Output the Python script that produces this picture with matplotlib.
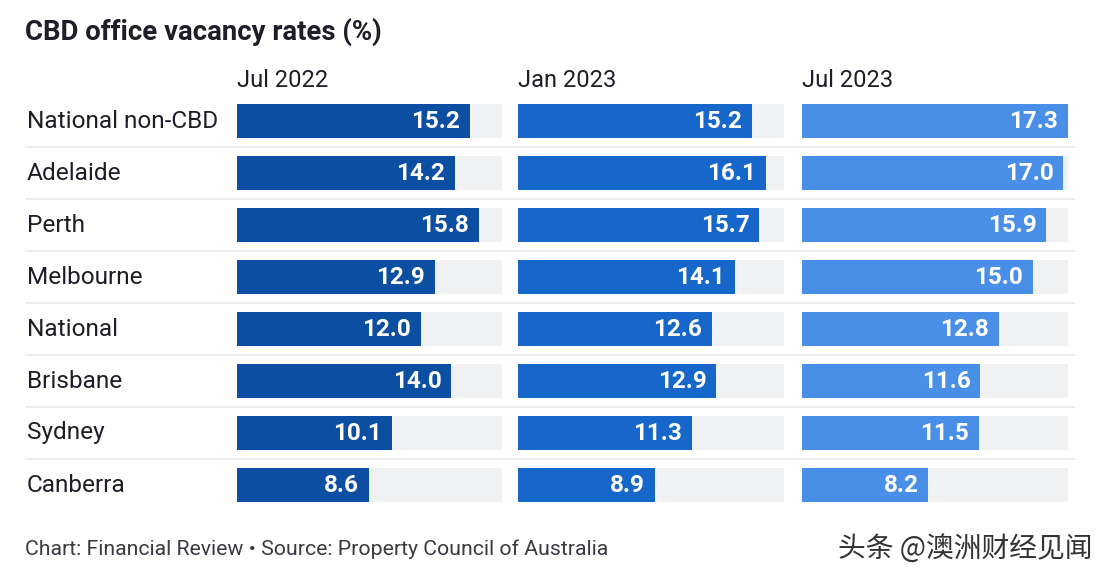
import matplotlib
matplotlib.use("Agg")
import matplotlib.pyplot as plt

# dados
cities = ["National non-CBD", "Adelaide", "Perth", "Melbourne", "National",
          "Brisbane", "Sydney", "Canberra"]
periods = ["Jul 2022", "Jan 2023", "Jul 2023"]
jul_2022 = [15.2, 14.2, 15.8, 12.9, 12.0, 14.0, 10.1, 8.6]
jan_2023 = [15.2, 16.1, 15.7, 14.1, 12.6, 12.9, 11.3, 8.9]
jul_2023 = [17.3, 17.0, 15.9, 15.0, 12.8, 11.6, 11.5, 8.2]
series = [jul_2022, jan_2023, jul_2023]

colors = ["#0b4ea2", "#1667c9", "#4a8fe7"]
track = "#f0f1f3"
text_dark = "#1e1e2a"

plt.rcParams['font.family'] = ['Roboto', 'DejaVu Sans']

W, H = 1108, 580
fig = plt.figure(figsize=(W / 100, H / 100), dpi=100)
fig.patch.set_facecolor("white")

# área das linhas (pixels)
top, bottom = 95, 511
n = len(cities)
vmax = max(max(s) for s in series)

def frac_box(x0, x1):
    return [x0 / W, 1 - bottom / H, (x1 - x0) / W, (bottom - top) / H]

# eixo de fundo: separadores e nomes das cidades
bg = fig.add_axes(frac_box(25, 1075))
bg.set_xlim(0, 1)
bg.set_ylim(n - 0.5, -0.5)
bg.axis("off")
for i in range(n - 1):
    bg.axhline(i + 0.5, color="#e6e7ea", lw=1.2)
for i, c in enumerate(cities):
    bg.text(0.0015, i, c, ha="left", va="center", fontsize=17.6, color=text_dark)

# um painel por período
panels = [(237, 502), (518, 784), (802, 1068)]
for (x0, x1), vals, col, per in zip(panels, series, colors, periods):
    ax = fig.add_axes(frac_box(x0, x1))
    ax.set_xlim(0, vmax)
    ax.set_ylim(n - 0.5, -0.5)
    ax.axis("off")
    ys = list(range(n))
    ax.barh(ys, [vmax] * n, height=0.64, color=track, zorder=1)
    ax.barh(ys, vals, height=0.64, color=col, zorder=2)
    for y, v in zip(ys, vals):
        ax.annotate(f"{v:.1f}", (v, y), xytext=(-7, 0), textcoords="offset points",
                    ha="right", va="center", color="white", fontsize=17.5,
                    fontweight="bold", zorder=3)
    fig.text(x0 / W, 1 - 80 / H, per, ha="left", va="center", fontsize=17,
             color=text_dark)

fig.text(25 / W, 1 - 32 / H, "CBD office vacancy rates (%)", ha="left", va="center",
         fontsize=19.8, fontweight="bold", color=text_dark)
fig.text(25 / W, 1 - 549 / H,
         "Chart: Financial Review \u2022 Source: Property Council of Australia",
         ha="left", va="center", fontsize=15.3, color="#3a3a44")
fig.text(1092 / W, 1 - 549 / H, "头条 @澳洲财经见闻", ha="right", va="center",
         fontsize=20, color="#333333", family=['Noto Sans CJK SC', 'DejaVu Sans'])

fig.savefig("out.png", dpi=100, facecolor="white")
